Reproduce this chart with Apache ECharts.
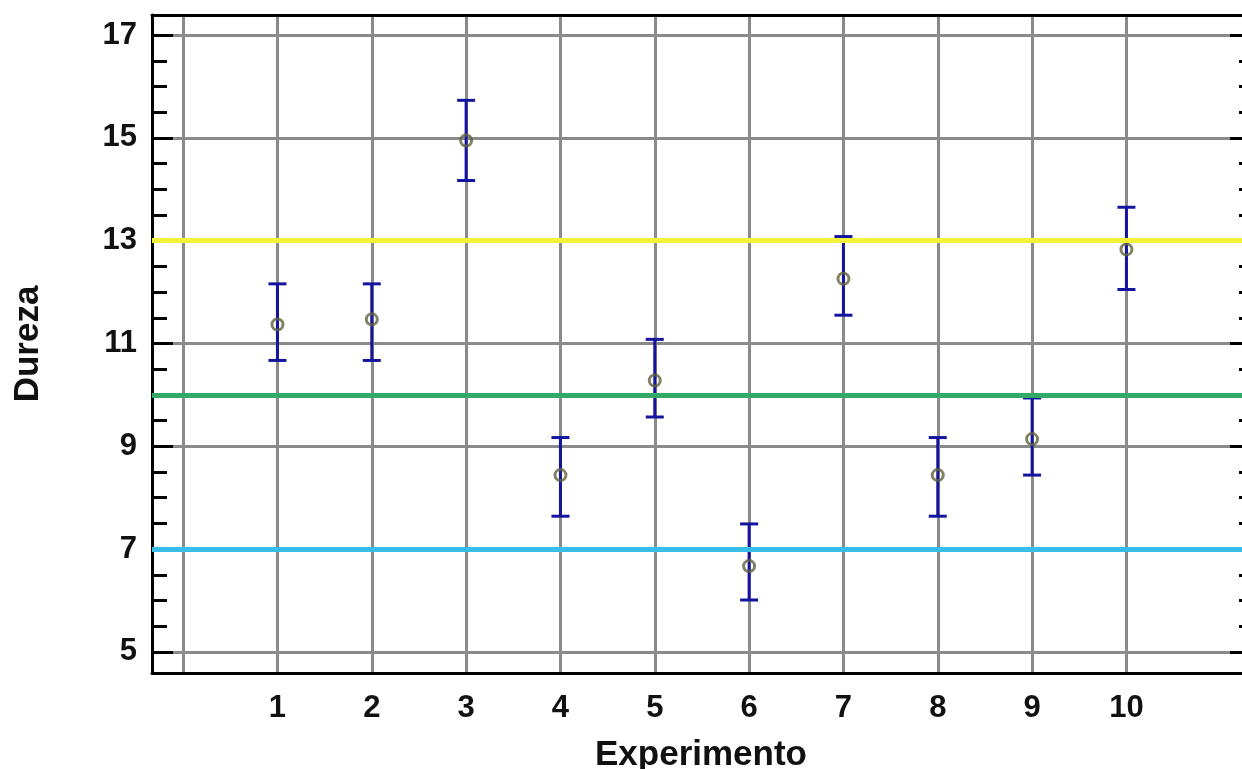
<!DOCTYPE html>
<html>
<head>
<meta charset="utf-8">
<script src="https://cdn.jsdelivr.net/npm/echarts@6/dist/echarts.min.js"></script>
<style>
html,body{margin:0;padding:0;background:#fff;}
#chart{width:1242px;height:769px;}
</style>
</head>
<body>
<div id="chart"></div>
<script>
// ---- data ----
const experiments = [1, 2, 3, 4, 5, 6, 7, 8, 9, 10];
const means = [11.37, 11.47, 14.95, 8.44, 10.28, 6.67, 12.26, 8.44, 9.14, 12.83];
const lower = [10.67, 10.67, 14.17, 7.64, 9.57, 6.01, 11.55, 7.64, 8.44, 12.05];
const upper = [12.16, 12.16, 15.73, 9.17, 11.08, 7.49, 13.08, 9.17, 9.94, 13.65];
const refLevels = [13, 10, 7];
const refColors = ['#f2f23a', '#35a868', '#37bde8'];
const yMajorTicks = [5, 7, 9, 11, 13, 15, 17];
const yMinorTicks = [5.5, 6, 6.5, 7.5, 8, 8.5, 9.5, 10, 10.5, 11.5, 12, 12.5, 13.5, 14, 14.5, 15.5, 16, 16.5];
const xGridTicks = [0, 1, 2, 3, 4, 5, 6, 7, 8, 9, 10];
const xLabelTicks = [1, 2, 3, 4, 5, 6, 7, 8, 9, 10];

const Y_MIN = 4.59, Y_MAX = 17.39, X_MIN = -0.33, X_MAX = 11.31;
const FONT = 'Liberation Sans, Arial, sans-serif';
const BAR = '#14149e';

const chart = echarts.init(document.getElementById('chart'));

const errData = experiments.map((x, i) => [x, lower[i], upper[i]]);
const ptData = experiments.map((x, i) => [x, means[i]]);

const gridRect = { left: 152, top: 15, right: -8, bottom: 96, containLabel: false, outerBoundsMode: 'none' };

const option = {
  animation: false,
  backgroundColor: '#ffffff',
  grid: [Object.assign({}, gridRect), Object.assign({}, gridRect)],
  xAxis: [
    {
      gridIndex: 0, type: 'value', position: 'bottom', min: X_MIN, max: X_MAX,
      axisLine: { show: true, onZero: false, lineStyle: { color: '#000', width: 3 } },
      axisTick: { show: false, customValues: xGridTicks },
      axisLabel: { customValues: xLabelTicks, fontSize: 31, fontWeight: 'bold', color: '#111', fontFamily: FONT, margin: 20 },
      splitLine: { show: true, lineStyle: { color: '#8a8a8a', width: 3 } },
      name: 'Experimento', nameLocation: 'middle', nameGap: 65,
      nameTextStyle: { fontSize: 35, fontWeight: 'bold', color: '#111', fontFamily: FONT }
    },
    {
      gridIndex: 0, type: 'value', position: 'top', min: X_MIN, max: X_MAX,
      axisLine: { show: true, onZero: false, lineStyle: { color: '#000', width: 3 } },
      axisTick: { show: false }, axisLabel: { show: false }, splitLine: { show: false }
    },
    {
      gridIndex: 1, type: 'value', min: X_MIN, max: X_MAX, show: false
    }
  ],
  yAxis: [
    {
      gridIndex: 0, type: 'value', position: 'left', min: Y_MIN, max: Y_MAX,
      axisLine: { show: true, onZero: false, lineStyle: { color: '#000', width: 3 } },
      axisTick: { show: true, inside: true, length: 21, customValues: yMajorTicks, lineStyle: { color: '#000', width: 3 } },
      axisLabel: { customValues: yMajorTicks, fontSize: 31, fontWeight: 'bold', color: '#111', fontFamily: FONT, margin: 15 },
      splitLine: { show: true, lineStyle: { color: '#8a8a8a', width: 3 } },
      name: 'Dureza', nameLocation: 'middle', nameGap: 106,
      nameTextStyle: { fontSize: 35, fontWeight: 'bold', color: '#111', fontFamily: FONT }
    },
    {
      gridIndex: 0, type: 'value', position: 'right', min: Y_MIN, max: Y_MAX,
      axisLine: { show: true, onZero: false, lineStyle: { color: '#000', width: 3 } },
      axisTick: { show: true, inside: true, length: 20, customValues: yMajorTicks, lineStyle: { color: '#000', width: 3 } },
      axisLabel: { show: false }, splitLine: { show: false }
    },
    {
      gridIndex: 1, type: 'value', position: 'left', min: Y_MIN, max: Y_MAX,
      axisLine: { show: false, onZero: false },
      axisTick: { show: true, inside: true, length: 15, customValues: yMinorTicks, lineStyle: { color: '#000', width: 3 } },
      axisLabel: { show: false }, splitLine: { show: false }
    },
    {
      gridIndex: 1, type: 'value', position: 'right', min: Y_MIN, max: Y_MAX,
      axisLine: { show: false, onZero: false },
      axisTick: { show: true, inside: true, length: 11, customValues: yMinorTicks, lineStyle: { color: '#000', width: 3 } },
      axisLabel: { show: false }, splitLine: { show: false }
    }
  ],
  series: [
    {
      type: 'custom', xAxisIndex: 0, yAxisIndex: 0, z: 3,
      data: errData,
      renderItem: function (params, api) {
        const x = api.value(0);
        const pLo = api.coord([x, api.value(1)]);
        const pHi = api.coord([x, api.value(2)]);
        const hw = 9;
        const st = { stroke: BAR, lineWidth: 3 };
        return {
          type: 'group',
          children: [
            { type: 'line', shape: { x1: pLo[0], y1: pLo[1], x2: pHi[0], y2: pHi[1] }, style: st },
            { type: 'line', shape: { x1: pLo[0] - hw, y1: pLo[1], x2: pLo[0] + hw, y2: pLo[1] }, style: st },
            { type: 'line', shape: { x1: pHi[0] - hw, y1: pHi[1], x2: pHi[0] + hw, y2: pHi[1] }, style: st }
          ]
        };
      }
    },
    {
      type: 'scatter', xAxisIndex: 0, yAxisIndex: 0, z: 4,
      data: ptData, symbol: 'circle', symbolSize: 11,
      itemStyle: { color: 'rgba(255,255,255,0)', borderColor: '#626240', borderWidth: 3 }
    },
    {
      type: 'line', xAxisIndex: 0, yAxisIndex: 0, z: 5, data: [],
      markLine: {
        silent: true, symbol: 'none', animation: false,
        label: { show: false },
        data: refLevels.map((v, i) => ({ yAxis: v, lineStyle: { color: refColors[i], width: 5, type: 'solid' } }))
      }
    }
  ]
};
chart.setOption(option);
</script>
</body>
</html>
